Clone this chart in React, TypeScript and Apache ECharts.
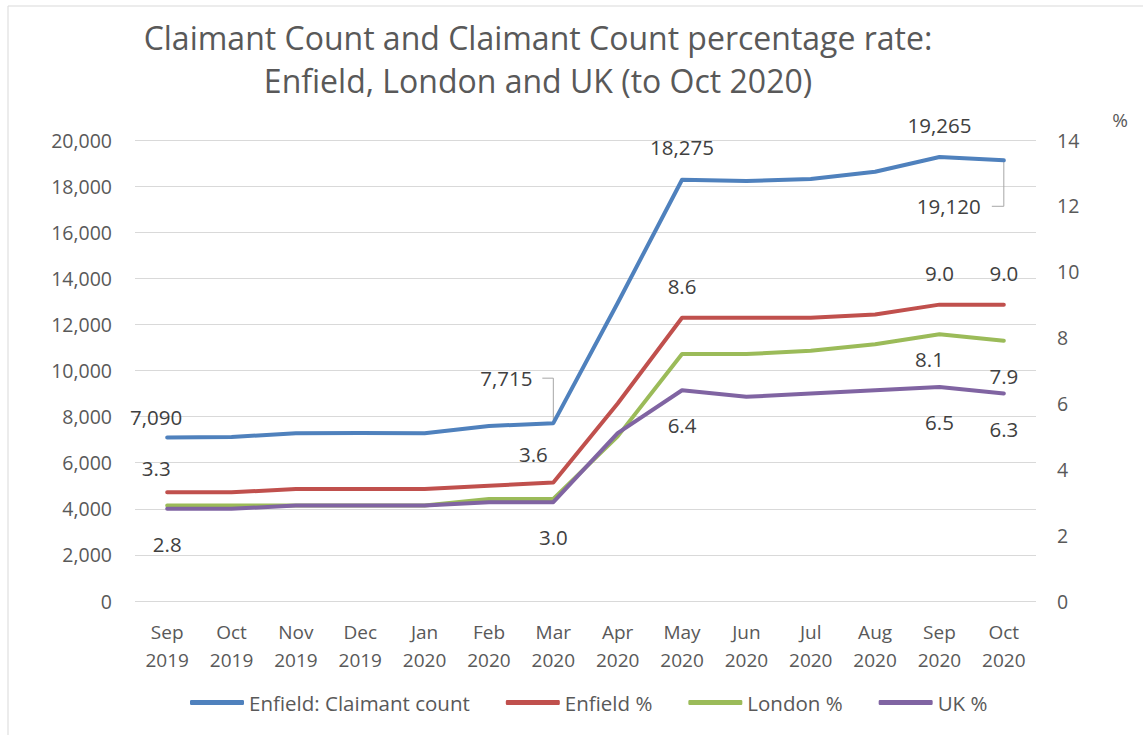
import React, { useEffect, useRef } from "react";
import * as echarts from "echarts";

const months = ["Sep\n2019", "Oct\n2019", "Nov\n2019", "Dec\n2019", "Jan\n2020", "Feb\n2020", "Mar\n2020", "Apr\n2020", "May\n2020", "Jun\n2020", "Jul\n2020", "Aug\n2020", "Sep\n2020", "Oct\n2020"];
const enfieldCount = [7090, 7120, 7275, 7290, 7275, 7590, 7715, 12930, 18275, 18220, 18310, 18625, 19265, 19120];
const enfieldPct = [3.3, 3.3, 3.4, 3.4, 3.4, 3.5, 3.6, 6.0, 8.6, 8.6, 8.6, 8.7, 9.0, 9.0];
const londonPct = [2.9, 2.9, 2.9, 2.9, 2.9, 3.1, 3.1, 5.0, 7.5, 7.5, 7.6, 7.8, 8.1, 7.9];
const ukPct = [2.8, 2.8, 2.9, 2.9, 2.9, 3.0, 3.0, 5.1, 6.4, 6.2, 6.3, 6.4, 6.5, 6.3];
const leftTicks = { min: 0, max: 20000, interval: 2000 };
const rightTicks = { min: 0, max: 14, interval: 2 };

// label placement (index -> offset of label centre from the point)
const countLabels: Record<number, [number, number]> = { 0: [-11, -21], 6: [-47, -45], 8: [0, -33], 12: [0, -32], 13: [-55, 46] };
const enfieldLabels: Record<number, [number, number]> = { 0: [-11, -24], 6: [-20, -28], 8: [0, -32], 12: [0, -32], 13: [0, -32] };
const londonLabels: Record<number, [number, number]> = { 12: [-10, 25], 13: [0, 35] };
const ukLabels: Record<number, [number, number]> = { 0: [0, 35], 6: [0, 35], 8: [0, 35], 12: [0, 35], 13: [0, 35] };

const FONT = "'Open Sans', 'Noto Sans', sans-serif";

function build(values: number[], labels: Record<number, [number, number]>, fmt: (v: number) => string) {
  return values.map((v, i) =>
    labels[i]
      ? {
          value: v,
          label: {
            show: true,
            position: "inside",
            offset: labels[i],
            formatter: () => fmt(v),
            color: "#404040",
            fontSize: 20.5,
            fontFamily: FONT,
          },
        }
      : { value: v }
  );
}

const fmtCount = (v: number) => v.toLocaleString("en-GB");
const fmtPct = (v: number) => v.toFixed(1);

export default function App() {
  const ref = useRef<HTMLDivElement>(null);
  useEffect(() => {
    if (!ref.current) return;
    const chart = echarts.init(ref.current, undefined, { renderer: "svg" });
    const lineSeries = (name: string, data: any[], color: string, yAxisIndex: number) => ({
      name,
      type: "line",
      yAxisIndex,
      data,
      symbol: "circle",
      symbolSize: 0.1,
      showSymbol: true,
      itemStyle: { color },
      lineStyle: { color, width: 4, cap: "round", join: "round" },
      label: { show: false },
      emphasis: { disabled: true },
      z: 2,
    });
    chart.setOption({
      animation: false,
      backgroundColor: "#ffffff",
      textStyle: { fontFamily: FONT },
      grid: { left: 135, right: 107, top: 140, bottom: 134, containLabel: false },
      legend: {
        top: 687,
        left: 185,
        itemWidth: 54,
        itemHeight: 5,
        itemGap: 36,
        icon: "roundRect",
        textStyle: { color: "#595959", fontSize: 20.5, fontFamily: FONT },
        data: ["Enfield: Claimant count", "Enfield %", "London %", "UK %"],
      },
      xAxis: {
        type: "category",
        data: months,
        boundaryGap: true,
        axisLine: { show: false },
        axisTick: { show: false },
        axisLabel: { color: "#595959", fontSize: 19, fontFamily: FONT, lineHeight: 28, margin: 17, interval: 0 },
      },
      yAxis: [
        {
          type: "value",
          ...leftTicks,
          axisLine: { show: false },
          axisTick: { show: false },
          splitLine: { lineStyle: { color: "#d9d9d9", width: 1 } },
          axisLabel: { color: "#595959", fontSize: 19.5, fontFamily: FONT, margin: 23, formatter: (v: number) => v.toLocaleString("en-GB") },
        },
        {
          type: "value",
          ...rightTicks,
          axisLine: { show: false },
          axisTick: { show: false },
          splitLine: { show: false },
          axisLabel: { color: "#595959", fontSize: 19.5, fontFamily: FONT, margin: 21 },
        },
      ],
      series: [
        lineSeries("Enfield: Claimant count", build(enfieldCount, countLabels, fmtCount), "#4f81bd", 0),
        lineSeries("Enfield %", build(enfieldPct, enfieldLabels, fmtPct), "#c0504d", 1),
        lineSeries("London %", build(londonPct, londonLabels, fmtPct), "#9bbb59", 1),
        lineSeries("UK %", build(ukPct, ukLabels, fmtPct), "#8064a2", 1),
      ],
    });

    // leader lines for displaced labels, anchored through the axes
    const leader = (idx: number, offs: [number, number], halfW: number) => {
      const p = chart.convertToPixel({ xAxisIndex: 0, yAxisIndex: 0 }, [idx, enfieldCount[idx]]) as number[];
      const ly = p[1] + offs[1];
      const lx = p[0] + offs[0] + halfW + 8;
      return {
        type: "polyline",
        shape: { points: [[lx, ly], [p[0], ly], [p[0], p[1]]] },
        style: { stroke: "#a6a6a6", lineWidth: 1, fill: "none" },
        z: 1,
        silent: true,
      };
    };
    chart.setOption({
      graphic: [
        { type: "rect", shape: { x: 8, y: 6, width: 1300, height: 900 }, style: { fill: "none", stroke: "#d9d9d9", lineWidth: 1 }, silent: true },
        { type: "text", x: 538, y: 37, style: { text: "Claimant Count and Claimant Count percentage rate:", font: `32px ${FONT}`, fill: "#595959", textAlign: "center", textVerticalAlign: "middle" } },
        { type: "text", x: 538, y: 80, style: { text: "Enfield, London and UK (to Oct 2020)", font: `32px ${FONT}`, fill: "#595959", textAlign: "center", textVerticalAlign: "middle" } },
        { type: "text", x: 1120, y: 120, style: { text: "%", font: `19px ${FONT}`, fill: "#595959", textAlign: "center", textVerticalAlign: "middle" } },
        leader(6, countLabels[6], 28),
        leader(13, countLabels[13], 35),
      ],
    });
    return () => chart.dispose();
  }, []);
  return <div ref={ref} style={{ position: "absolute", left: 0, top: 0, width: 1143, height: 735 }} />;
}
